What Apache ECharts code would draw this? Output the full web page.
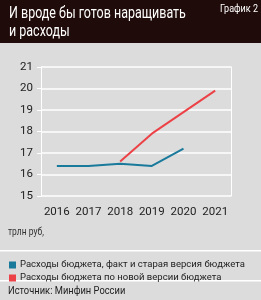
<!DOCTYPE html>
<html>
<head>
<meta charset="utf-8">
<script src="https://cdn.jsdelivr.net/npm/echarts@6/dist/echarts.min.js"></script>
<style>
  html, body { margin: 0; padding: 0; background: #dcdcdc; }
  #chart { width: 261px; height: 300px; }
</style>
</head>
<body>
<div id="chart"></div>
<script>
// данные графика
const years = ['2016', '2017', '2018', '2019', '2020', '2021'];
const factOld = [16.4, 16.4, 16.5, 16.4, 17.2, null];
const newBudget = [null, null, 16.6, 17.9, 18.9, 19.9];
const seriesNames = ['Расходы бюджета, факт и старая версия бюджета', 'Расходы бюджета по новой версии бюджета'];

const font = 'Roboto, "Liberation Sans", sans-serif';

const chart = echarts.init(document.getElementById('chart'));

const option = {
  backgroundColor: '#dcdcdc',
  animation: false,
  textStyle: { fontFamily: font },
  graphic: [
    { type: 'rect', shape: { x: 0, y: 0, width: 261, height: 43 }, style: { fill: '#1f0b09' } },
    { type: 'text', x: 9, y: 5, scaleX: 0.78, style: { text: 'И вроде бы готов наращивать\nи расходы', fill: '#ffffff', font: '16px ' + font, lineHeight: 18 } },
    { type: 'text', x: 258, y: 4, scaleX: 0.82, style: { text: 'График 2', fill: '#ffffff', font: '11px ' + font, align: 'right' } },
    { type: 'text', x: 8, y: 227, scaleX: 0.85, style: { text: 'трлн руб,', fill: '#333333', font: '10px ' + font } },
    { type: 'rect', shape: { x: 0, y: 250, width: 261, height: 1.5 }, style: { fill: '#ffffff' } },
    { type: 'rect', shape: { x: 0, y: 280, width: 261, height: 1.5 }, style: { fill: '#ffffff' } },
    { type: 'text', x: 8, y: 286, scaleX: 0.85, style: { text: 'Источник: Минфин России', fill: '#222222', font: '11px ' + font } }
  ],
  legend: {
    orient: 'vertical',
    left: 4,
    top: 255,
    itemWidth: 7,
    itemHeight: 7,
    itemGap: 3,
    icon: 'rect',
    textStyle: { fontSize: 9.5, color: '#222', fontFamily: font, padding: [0, 0, 0, -1] },
    data: seriesNames
  },
  grid: { left: 41, right: 30, top: 67, bottom: 104 },
  xAxis: {
    type: 'category',
    data: years,
    axisLine: { show: false },
    axisTick: { show: false },
    axisLabel: { color: '#222', fontSize: 11.5, margin: 10, interval: 0, fontFamily: font },
    splitLine: { show: false }
  },
  yAxis: [
    {
      type: 'value',
      min: 15,
      max: 21,
      interval: 1,
      axisLine: { show: true, lineStyle: { color: '#ffffff', width: 1 } },
      axisTick: { show: true, length: 4, lineStyle: { color: '#ffffff' } },
      axisLabel: { color: '#222', fontSize: 11.5, margin: 8, fontFamily: font },
      splitLine: { show: true, lineStyle: { color: '#ffffff', width: 1.5 } }
    },
    {
      type: 'value',
      position: 'right',
      min: 15,
      max: 21,
      interval: 1,
      axisLine: { show: true, lineStyle: { color: '#ffffff', width: 1 } },
      axisTick: { show: false },
      axisLabel: { show: false },
      splitLine: { show: false }
    }
  ],
  series: [
    {
      name: seriesNames[0],
      type: 'line',
      data: factOld,
      symbol: 'none',
      color: '#1a7a9c',
      lineStyle: { width: 2 }
    },
    {
      name: seriesNames[1],
      type: 'line',
      data: newBudget,
      symbol: 'none',
      color: '#ec4247',
      lineStyle: { width: 2 }
    }
  ]
};

chart.setOption(option);
</script>
</body>
</html>
